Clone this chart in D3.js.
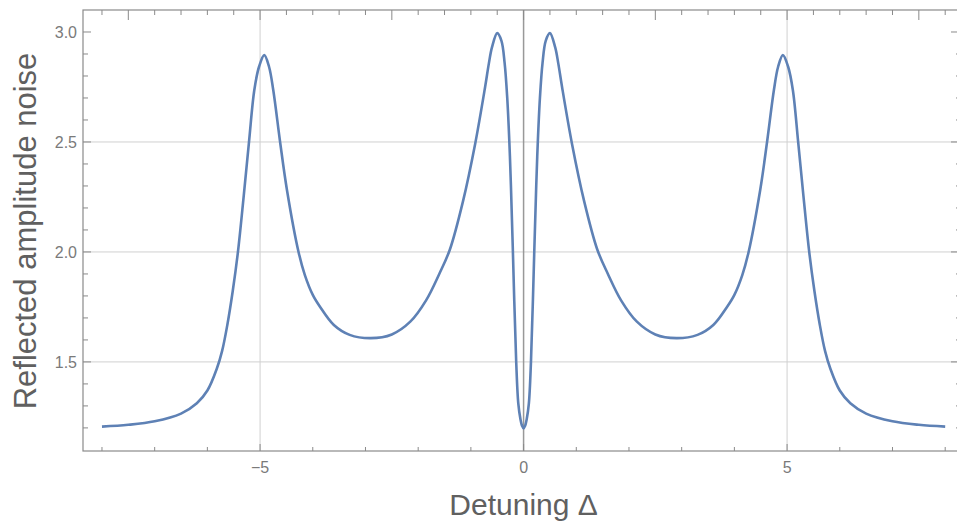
<!DOCTYPE html>
<html>
<head>
<meta charset="utf-8">
<script src="https://cdn.jsdelivr.net/npm/d3@7"></script>
<style>
  body { margin: 0; background: #fff; }
  text { font-family: "Liberation Sans", Arial, sans-serif; }
</style>
</head>
<body>
<div id="chart"></div>
<script>
// curve values
var detuning = [-8.0, -7.5, -7.0, -6.5, -6.2, -6.0, -5.82, -5.72, -5.62, -5.52, -5.42, -5.31, -5.21, -5.11, -5.02,
    -4.92, -4.83, -4.75, -4.62, -4.49, -4.27, -4.15, -4.0, -3.86, -3.6, -3.3, -2.9, -2.5, -2.15, -1.85, -1.6, -1.4,
    -1.15, -0.92, -0.73, -0.66, -0.6, -0.5, -0.42, -0.36, -0.31, -0.27, -0.24, -0.205, -0.14, -0.1, -0.06, -0.03, 0,
    0.03, 0.06, 0.1, 0.14, 0.205, 0.24, 0.27, 0.31, 0.36, 0.42, 0.5, 0.6, 0.66, 0.73, 0.92, 1.15,
    1.4, 1.6, 1.85, 2.15, 2.5, 2.9, 3.3, 3.6, 3.86, 4.0, 4.15, 4.27, 4.49, 4.62, 4.75, 4.83, 4.92,
    5.02, 5.11, 5.21, 5.31, 5.42, 5.52, 5.62, 5.72, 5.82, 6.0, 6.2, 6.5, 7.0, 7.5, 8.0];
var noise = [1.206, 1.214, 1.230, 1.265, 1.312, 1.37, 1.47, 1.55, 1.67, 1.82, 2.0, 2.255, 2.5, 2.735, 2.842,
    2.895, 2.842, 2.736, 2.5, 2.282, 2.0, 1.895, 1.805, 1.75, 1.668, 1.623, 1.608, 1.625, 1.683, 1.78, 1.90, 2.01,
    2.23, 2.49, 2.75, 2.855, 2.93, 2.995, 2.96, 2.86, 2.70, 2.50, 2.30, 2.02, 1.50, 1.31, 1.24, 1.21, 1.198,
    1.21, 1.24, 1.31, 1.50, 2.02, 2.30, 2.50, 2.70, 2.86, 2.96, 2.995, 2.93, 2.855, 2.75, 2.49, 2.23,
    2.01, 1.90, 1.78, 1.683, 1.625, 1.608, 1.623, 1.668, 1.75, 1.805, 1.895, 2.0, 2.282, 2.5, 2.736, 2.842, 2.895,
    2.842, 2.735, 2.5, 2.255, 2.0, 1.82, 1.67, 1.55, 1.47, 1.37, 1.312, 1.265, 1.230, 1.214, 1.206];

var xMajor = [-5, 0, 5];
var yMajor = [1.5, 2.0, 2.5, 3.0];
var xLabel = "Detuning \u0394";
var yLabel = "Reflected amplitude noise";

var svgWidth = 957;
var svgHeight = 523;

var plotLeft = 83, plotRight = 961, plotTop = 10, plotBottom = 451;

var svg = d3.select("#chart")
    .append("svg")
    .attr("width", svgWidth)
    .attr("height", svgHeight);

var x = d3.scaleLinear().domain([-8.36, 8.3]).range([plotLeft, plotRight]);
var y = d3.scaleLinear().domain([1.095, 3.1]).range([plotBottom, plotTop]);

var data = detuning.map(function (d, i) { return { x: d, y: noise[i] }; });

var frameColor = "#8a8a8a";
var gridColor = "#d0d0d0";

// grid lines
var grid = svg.append("g");
grid.selectAll(".vgrid")
    .data(xMajor.filter(function (d) { return d !== 0; }))
    .enter().append("line")
    .attr("x1", d => x(d)).attr("x2", d => x(d))
    .attr("y1", plotTop).attr("y2", plotBottom)
    .attr("stroke", gridColor).attr("stroke-width", 1);
grid.selectAll(".hgrid")
    .data(yMajor.filter(function (d) { return d < 3; }))
    .enter().append("line")
    .attr("x1", plotLeft).attr("x2", plotRight)
    .attr("y1", d => y(d)).attr("y2", d => y(d))
    .attr("stroke", gridColor).attr("stroke-width", 1);

// vertical axis at zero
svg.append("line")
    .attr("x1", x(0)).attr("x2", x(0))
    .attr("y1", plotTop).attr("y2", plotBottom)
    .attr("stroke", "#999").attr("stroke-width", 1.5);

// the curve
var line = d3.line()
    .x(d => x(d.x))
    .y(d => y(d.y))
    .curve(d3.curveCatmullRom.alpha(0.5));

svg.append("path")
    .datum(data)
    .attr("fill", "none")
    .attr("stroke", "#5e81b5")
    .attr("stroke-width", 2.6)
    .attr("stroke-linejoin", "round")
    .attr("d", line);

// frame
svg.append("rect")
    .attr("x", plotLeft).attr("y", plotTop)
    .attr("width", plotRight - plotLeft).attr("height", plotBottom - plotTop)
    .attr("fill", "none")
    .attr("stroke", frameColor).attr("stroke-width", 1.2);

var ticks = svg.append("g").attr("stroke", frameColor).attr("stroke-width", 1);

// bottom ticks every 1
ticks.selectAll(".bt")
    .data(d3.range(-8, 9, 1))
    .enter().append("line")
    .attr("x1", d => x(d)).attr("x2", d => x(d))
    .attr("y1", plotBottom).attr("y2", d => plotBottom - (xMajor.indexOf(d) >= 0 ? 7 : 4));

// top ticks every 0.5
ticks.selectAll(".tt")
    .data(d3.range(-16, 17, 1).map(d => d / 2))
    .enter().append("line")
    .attr("x1", d => x(d)).attr("x2", d => x(d))
    .attr("y1", plotTop).attr("y2", d => plotTop + (d % 2.5 === 0 ? 10 : 5));

// left and right ticks every 0.1
var yTicks = d3.range(12, 31, 1).map(d => d / 10);
ticks.selectAll(".lt")
    .data(yTicks)
    .enter().append("line")
    .attr("x1", plotLeft).attr("x2", d => plotLeft + (Math.round(d * 10) % 5 === 0 ? 8 : 5))
    .attr("y1", d => y(d)).attr("y2", d => y(d));
ticks.selectAll(".rt")
    .data(yTicks)
    .enter().append("line")
    .attr("x1", plotRight).attr("x2", d => plotRight - (Math.round(d * 10) % 5 === 0 ? 10 : 5))
    .attr("y1", d => y(d)).attr("y2", d => y(d));

// tick labels
svg.selectAll(".xl")
    .data(xMajor)
    .enter().append("text")
    .attr("x", d => x(d))
    .attr("y", plotBottom + 22)
    .attr("text-anchor", "middle")
    .attr("font-size", "16px")
    .attr("fill", "#7a7a7a")
    .text(d => d < 0 ? "\u2212" + Math.abs(d) : d);

svg.selectAll(".yl")
    .data(yMajor)
    .enter().append("text")
    .attr("x", plotLeft - 6)
    .attr("y", d => y(d) + 6)
    .attr("text-anchor", "end")
    .attr("font-size", "16px")
    .attr("fill", "#7a7a7a")
    .text(d => d.toFixed(1));

// axis titles
svg.append("text")
    .attr("x", x(0))
    .attr("y", 515)
    .attr("text-anchor", "middle")
    .attr("font-size", "30px")
    .attr("fill", "#606060")
    .text(xLabel);

svg.append("text")
    .attr("transform", "translate(36, 231) rotate(-90)")
    .attr("text-anchor", "middle")
    .attr("font-size", "31px")
    .attr("fill", "#606060")
    .text(yLabel);
</script>
</body>
</html>
